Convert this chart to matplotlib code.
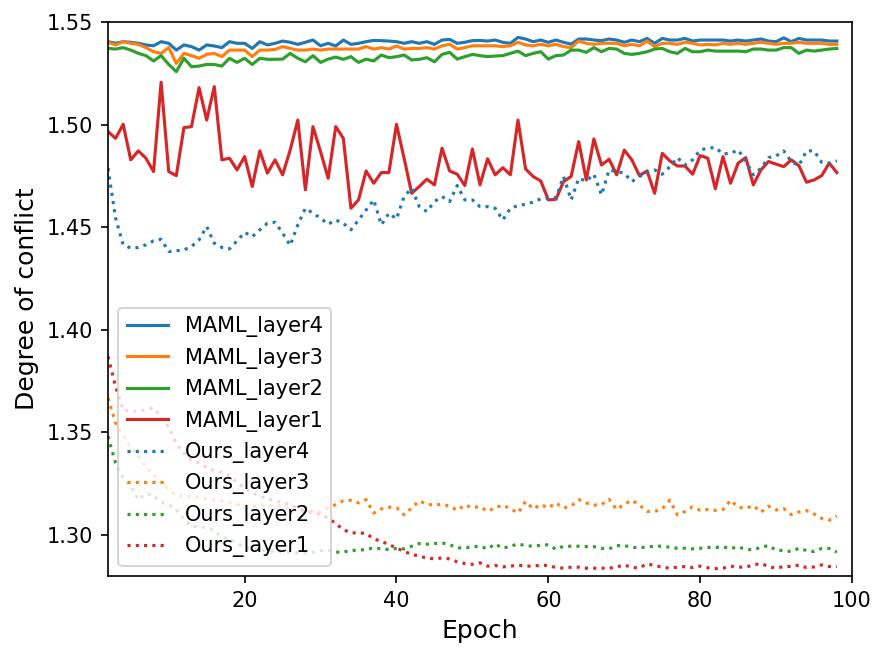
import numpy as np
import matplotlib as mpl
mpl.use('Agg')
import matplotlib.pyplot as plt

epochs = np.arange(2, 99)

maml_layer4 = [
    1.5404, 1.5396, 1.5404, 1.5401, 1.5396, 1.5388, 1.5384, 1.5404, 1.5396, 1.5363,
    1.5388, 1.5380, 1.5363, 1.5388, 1.5383, 1.5375, 1.5404, 1.5396, 1.5396, 1.5371,
    1.5404, 1.5388, 1.5396, 1.5407, 1.5401, 1.5391, 1.5401, 1.5412, 1.5384, 1.5396,
    1.5383, 1.5412, 1.5391, 1.5396,
    1.5404, 1.5410, 1.5409, 1.5407, 1.5404, 1.5396, 1.5404, 1.5396, 1.5404, 1.5391,
    1.5412, 1.5415, 1.5396, 1.5401, 1.5409, 1.5410, 1.5407, 1.5412, 1.5401, 1.5396,
    1.5425, 1.5417, 1.5404, 1.5412, 1.5401, 1.5412, 1.5401, 1.5392, 1.5417, 1.5417,
    1.5412, 1.5409,
    1.5417, 1.5412, 1.5401, 1.5412, 1.5404, 1.5420, 1.5396, 1.5420, 1.5412, 1.5412,
    1.5420, 1.5407, 1.5412, 1.5412, 1.5412, 1.5412, 1.5407, 1.5412, 1.5407, 1.5412,
    1.5417, 1.5407, 1.5404, 1.5423, 1.5404, 1.5420, 1.5412, 1.5412, 1.5412, 1.5407,
    1.5407]

maml_layer3 = [
    1.5401, 1.5388, 1.5404, 1.5396, 1.5391, 1.5375, 1.5355, 1.5347, 1.5375, 1.5298,
    1.5347, 1.5336, 1.5323, 1.5342, 1.5347, 1.5331, 1.5363, 1.5363, 1.5363, 1.5331,
    1.5363, 1.5363, 1.5366, 1.5380, 1.5371, 1.5363, 1.5363, 1.5368, 1.5363, 1.5368,
    1.5368, 1.5368, 1.5368, 1.5368,
    1.5380, 1.5368, 1.5375, 1.5368, 1.5383, 1.5368, 1.5371, 1.5371, 1.5375, 1.5368,
    1.5384, 1.5391, 1.5368, 1.5375, 1.5384, 1.5384, 1.5384, 1.5384, 1.5380, 1.5384,
    1.5401, 1.5388, 1.5384, 1.5391, 1.5384, 1.5391, 1.5380, 1.5375, 1.5407, 1.5396,
    1.5391, 1.5396,
    1.5396, 1.5396, 1.5384, 1.5391, 1.5384, 1.5407, 1.5380, 1.5396, 1.5396, 1.5391,
    1.5401, 1.5396, 1.5388, 1.5391, 1.5388, 1.5396, 1.5391, 1.5396, 1.5391, 1.5396,
    1.5401, 1.5396, 1.5391, 1.5396, 1.5396, 1.5401, 1.5396, 1.5396, 1.5396, 1.5391,
    1.5391]

maml_layer2 = [
    1.5371, 1.5368, 1.5375, 1.5363, 1.5347, 1.5336, 1.5310, 1.5336, 1.5293, 1.5258,
    1.5323, 1.5282, 1.5285, 1.5293, 1.5293, 1.5285, 1.5323, 1.5303, 1.5323, 1.5293,
    1.5323, 1.5318, 1.5318, 1.5319, 1.5347, 1.5323, 1.5306, 1.5336, 1.5303, 1.5319,
    1.5329, 1.5318, 1.5331, 1.5303,
    1.5319, 1.5310, 1.5339, 1.5326, 1.5331, 1.5339, 1.5315, 1.5318, 1.5326, 1.5306,
    1.5342, 1.5352, 1.5319, 1.5331, 1.5342, 1.5336, 1.5331, 1.5334, 1.5336, 1.5347,
    1.5358, 1.5336, 1.5347, 1.5355, 1.5319, 1.5336, 1.5339, 1.5363, 1.5363, 1.5352,
    1.5375, 1.5355,
    1.5371, 1.5368, 1.5347, 1.5342, 1.5347, 1.5355, 1.5368, 1.5371, 1.5355, 1.5347,
    1.5371, 1.5355, 1.5355, 1.5363, 1.5358, 1.5358, 1.5358, 1.5358, 1.5355, 1.5368,
    1.5368, 1.5363, 1.5363, 1.5375, 1.5375, 1.5347, 1.5363, 1.5358, 1.5363, 1.5368,
    1.5371]

maml_layer1 = [
    1.4966, 1.4933, 1.5001, 1.4828, 1.4872, 1.4836, 1.4771, 1.5206, 1.4771, 1.4751,
    1.4985, 1.4990, 1.5180, 1.5022, 1.5185, 1.4828, 1.4836, 1.4779, 1.4844, 1.4698,
    1.4872, 1.4763, 1.4828, 1.4755, 1.4876, 1.5022, 1.4682, 1.4990, 1.4868, 1.4738,
    1.4990, 1.4933, 1.4592, 1.4633,
    1.4774, 1.4714, 1.4766, 1.4766, 1.5001, 1.4836, 1.4665, 1.4698, 1.4734, 1.4706,
    1.4885, 1.4774, 1.4758, 1.4703, 1.4881, 1.4706, 1.4833, 1.4755, 1.4790, 1.4755,
    1.5022, 1.4784, 1.4747, 1.4725, 1.4633, 1.4636, 1.4722, 1.4747, 1.4917, 1.4730,
    1.4930, 1.4803,
    1.4831, 1.4755, 1.4876, 1.4828, 1.4751, 1.4774, 1.4665, 1.4860, 1.4823, 1.4798,
    1.4798, 1.4758, 1.4849, 1.4836, 1.4687, 1.4844, 1.4714, 1.4812, 1.4839, 1.4706,
    1.4779, 1.4820, 1.4807, 1.4795, 1.4828, 1.4800, 1.4719, 1.4730, 1.4751, 1.4812,
    1.4766]

ours_layer4 = [
    1.4787, 1.4544, 1.4414, 1.4398, 1.4401, 1.4414, 1.4433, 1.4441, 1.4381, 1.4385,
    1.4389, 1.4406, 1.4438, 1.4503, 1.4422, 1.4401, 1.4394, 1.4433, 1.4475, 1.4454,
    1.4487, 1.4519, 1.4524, 1.4471, 1.4411, 1.4511, 1.4592, 1.4568, 1.4544, 1.4514,
    1.4535, 1.4519, 1.4487, 1.4535,
    1.4584, 1.4633, 1.4511, 1.4568, 1.4540, 1.4649, 1.4690, 1.4600, 1.4576, 1.4625,
    1.4649, 1.4625, 1.4703, 1.4633, 1.4633, 1.4600, 1.4600, 1.4592, 1.4535, 1.4592,
    1.4605, 1.4612, 1.4622, 1.4638, 1.4641, 1.4644, 1.4747, 1.4633, 1.4738, 1.4725,
    1.4758, 1.4657,
    1.4779, 1.4771, 1.4763, 1.4722, 1.4747, 1.4768, 1.4779, 1.4758, 1.4795, 1.4839,
    1.4803, 1.4828, 1.4876, 1.4885, 1.4888, 1.4857, 1.4860, 1.4876, 1.4823, 1.4755,
    1.4787, 1.4839, 1.4847, 1.4872, 1.4820, 1.4800, 1.4872, 1.4872, 1.4816, 1.4812,
    1.4823]

ours_layer3 = [
    1.3667, 1.3546, 1.3489, 1.3424, 1.3387, 1.3330, 1.3292, 1.3255, 1.3219, 1.3195,
    1.3189, 1.3189, 1.3182, 1.3176, 1.3171, 1.3164, 1.3158, 1.3150, 1.3145, 1.3140,
    1.3140, 1.3145, 1.3145, 1.3140, 1.3125, 1.3117, 1.3115, 1.3115, 1.3111, 1.3132,
    1.3148, 1.3166, 1.3169, 1.3156,
    1.3172, 1.3107, 1.3127, 1.3135, 1.3133, 1.3098, 1.3132, 1.3166, 1.3150, 1.3145,
    1.3150, 1.3140, 1.3120, 1.3146, 1.3133, 1.3138, 1.3115, 1.3133, 1.3145, 1.3128,
    1.3107, 1.3163, 1.3127, 1.3148, 1.3132, 1.3156, 1.3132, 1.3140, 1.3172, 1.3156,
    1.3145, 1.3148,
    1.3174, 1.3124, 1.3150, 1.3169, 1.3145, 1.3115, 1.3114, 1.3127, 1.3169, 1.3098,
    1.3114, 1.3137, 1.3120, 1.3124, 1.3120, 1.3124, 1.3169, 1.3135, 1.3130, 1.3143,
    1.3111, 1.3140, 1.3122, 1.3128, 1.3099, 1.3112, 1.3119, 1.3102, 1.3081, 1.3072,
    1.3091]

ours_layer2 = [
    1.3481, 1.3351, 1.3278, 1.3237, 1.3172, 1.3201, 1.3193, 1.3159, 1.3148, 1.3124,
    1.3075, 1.3042, 1.3042, 1.3033, 1.3023, 1.2990, 1.2978, 1.2961, 1.2937, 1.2932,
    1.2926, 1.2921, 1.2921, 1.2917, 1.2914, 1.2913, 1.2913, 1.2916, 1.2924, 1.2926,
    1.2916, 1.2917, 1.2924, 1.2926,
    1.2929, 1.2937, 1.2932, 1.2929, 1.2934, 1.2932, 1.2945, 1.2958, 1.2955, 1.2958,
    1.2961, 1.2953, 1.2937, 1.2937, 1.2942, 1.2945, 1.2932, 1.2956, 1.2935, 1.2945,
    1.2956, 1.2948, 1.2945, 1.2950, 1.2952, 1.2930, 1.2945, 1.2945, 1.2945, 1.2943,
    1.2943, 1.2935,
    1.2932, 1.2948, 1.2948, 1.2940, 1.2937, 1.2942, 1.2945, 1.2945, 1.2940, 1.2935,
    1.2935, 1.2932, 1.2935, 1.2939, 1.2939, 1.2942, 1.2934, 1.2942, 1.2930, 1.2927,
    1.2940, 1.2948, 1.2926, 1.2924, 1.2919, 1.2935, 1.2924, 1.2919, 1.2934, 1.2934,
    1.2916]

ours_layer1 = [
    1.3870, 1.3724, 1.3607, 1.3604, 1.3602, 1.3610, 1.3619, 1.3575, 1.3526, 1.3443,
    1.3399, 1.3364, 1.3351, 1.3330, 1.3313, 1.3305, 1.3289, 1.3257, 1.3229, 1.3205,
    1.3189, 1.3176, 1.3167, 1.3159, 1.3145, 1.3132, 1.3115, 1.3107, 1.3099, 1.3083,
    1.3055, 1.3026, 1.3010, 1.3010,
    1.3007, 1.2981, 1.2969, 1.2953, 1.2937, 1.2919, 1.2906, 1.2896, 1.2888, 1.2883,
    1.2888, 1.2883, 1.2869, 1.2861, 1.2857, 1.2864, 1.2848, 1.2851, 1.2844, 1.2848,
    1.2853, 1.2848, 1.2848, 1.2853, 1.2851, 1.2841, 1.2838, 1.2843, 1.2843, 1.2838,
    1.2838, 1.2838,
    1.2838, 1.2844, 1.2854, 1.2841, 1.2840, 1.2859, 1.2851, 1.2843, 1.2838, 1.2843,
    1.2846, 1.2841, 1.2848, 1.2840, 1.2836, 1.2838, 1.2848, 1.2843, 1.2843, 1.2854,
    1.2861, 1.2846, 1.2838, 1.2846, 1.2846, 1.2853, 1.2841, 1.2844, 1.2854, 1.2846,
    1.2846]

fig = plt.figure(figsize=(5.92, 4.4), dpi=150)
ax = fig.add_subplot(111)
fig.subplots_adjust(left=0.1216, right=0.9595, bottom=0.1273, top=0.9667)

ax.plot(epochs, maml_layer4, color='C0', label='MAML_layer4')
ax.plot(epochs, maml_layer3, color='C1', label='MAML_layer3')
ax.plot(epochs, maml_layer2, color='C2', label='MAML_layer2')
ax.plot(epochs, maml_layer1, color='C3', label='MAML_layer1')
ax.plot(epochs, ours_layer4, color='C0', linestyle=':', label='Ours_layer4')
ax.plot(epochs, ours_layer3, color='C1', linestyle=':', label='Ours_layer3')
ax.plot(epochs, ours_layer2, color='C2', linestyle=':', label='Ours_layer2')
ax.plot(epochs, ours_layer1, color='C3', linestyle=':', label='Ours_layer1')

ax.set_xlim(2, 100)
ax.set_ylim(1.28, 1.55)
ax.set_xlabel('Epoch', fontsize=12)
ax.set_ylabel('Degree of conflict', fontsize=12)
ax.legend(loc='lower left')

fig.savefig('out.png', dpi=150)
plt.close(fig)
